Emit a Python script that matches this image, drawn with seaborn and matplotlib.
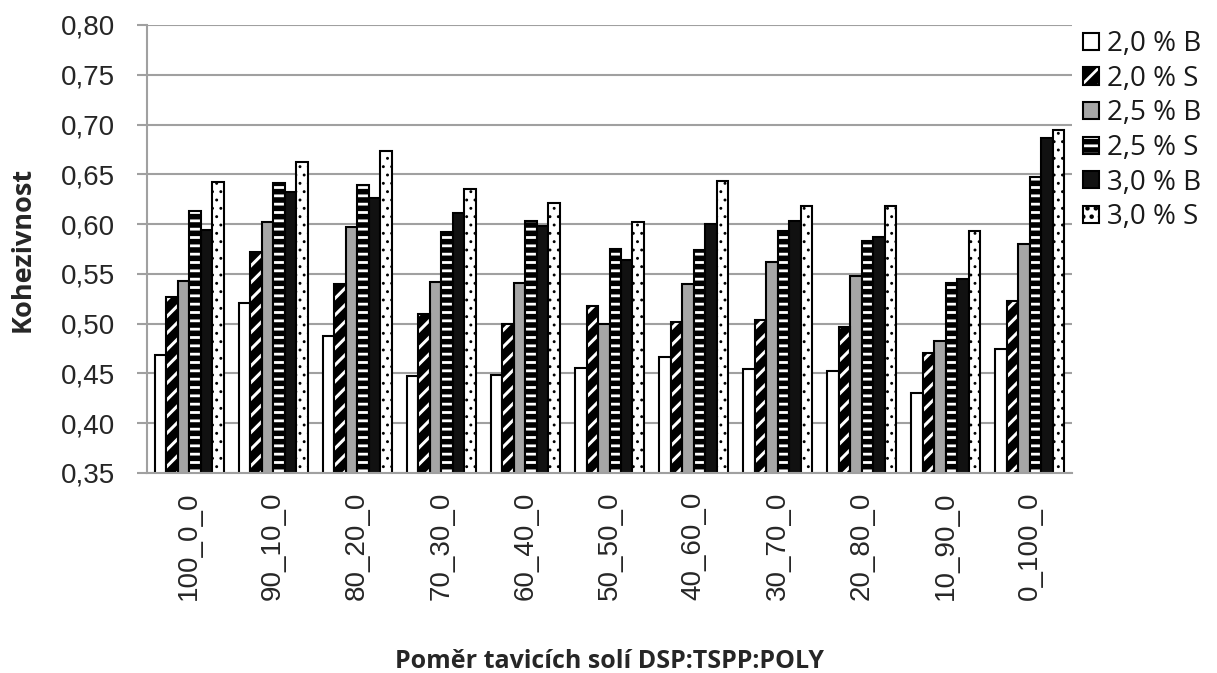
import matplotlib
matplotlib.use("Agg")
import matplotlib.pyplot as plt
from matplotlib.patches import Patch
import seaborn as sns
import pandas as pd

categories = ["100_0_0", "90_10_0", "80_20_0", "70_30_0", "60_40_0", "50_50_0",
              "40_60_0", "30_70_0", "20_80_0", "10_90_0", "0_100_0"]
series = ["2,0 % B", "2,0 % S", "2,5 % B", "2,5 % S", "3,0 % B", "3,0 % S"]
v_20B = [0.469, 0.521, 0.488, 0.447, 0.448, 0.455, 0.467, 0.454, 0.452, 0.430, 0.475]
v_20S = [0.527, 0.572, 0.540, 0.510, 0.500, 0.518, 0.502, 0.504, 0.497, 0.471, 0.523]
v_25B = [0.543, 0.602, 0.597, 0.542, 0.541, 0.500, 0.540, 0.562, 0.548, 0.483, 0.580]
v_25S = [0.613, 0.641, 0.639, 0.592, 0.603, 0.575, 0.574, 0.593, 0.583, 0.541, 0.647]
v_30B = [0.594, 0.632, 0.626, 0.611, 0.598, 0.564, 0.600, 0.603, 0.587, 0.545, 0.686]
v_30S = [0.642, 0.662, 0.673, 0.635, 0.621, 0.602, 0.643, 0.618, 0.618, 0.593, 0.695]
values = [v_20B, v_20S, v_25B, v_25S, v_30B, v_30S]

rows = []
for s, vals in zip(series, values):
    for c, v in zip(categories, vals):
        rows.append({"cat": c, "series": s, "value": v})
df = pd.DataFrame(rows)

sns.set_style("white")
plt.rcParams["hatch.linewidth"] = 2.0
plt.rcParams["font.family"] = ["Liberation Sans", "DejaVu Sans"]

# style per series: face, hatch, hatch colour, hatch linewidth
styles = [
    ("white", None, "black", None),
    ("black", "//", "white", 2.2),
    ("#a6a6a6", None, "black", None),
    ("black", "--", "white", 2.0),
    ("#111111", None, "black", None),
    ("white", "..", "black", 0.9),
]

fig = plt.figure(figsize=(12.17, 6.73), dpi=100)
ax = fig.add_axes([147 / 1217, 1 - 473 / 673, (1072 - 147) / 1217, (473 - 25) / 673])

sns.barplot(data=df, x="cat", y="value", hue="series", order=categories,
            hue_order=series, palette=[s[0] for s in styles], width=0.82,
            edgecolor="black", linewidth=1.5, ax=ax, legend=False, saturation=1)


def style_hatch(p, hatch, hc, hlw):
    p.set_hatch(hatch)
    p.set_edgecolor(hc)
    p.set_linewidth(0)
    if hasattr(p, "set_hatch_linewidth"):
        p.set_hatch_linewidth(hlw)


for cont, (face, hatch, hc, hlw) in zip(ax.containers, styles):
    for bar in cont:
        bar.set_facecolor(face)
        if hatch:
            style_hatch(bar, hatch, hc, hlw)
            x, y = bar.get_xy()
            outline = plt.Rectangle((x, y), bar.get_width(), bar.get_height(),
                                    fill=False, edgecolor="black", linewidth=1.5,
                                    zorder=bar.get_zorder() + 0.1)
            ax.add_patch(outline)

ax.set_ylim(0.35, 0.80)
ax.set_xlim(-0.5, len(categories) - 0.5)
yt = [0.35 + 0.05 * i for i in range(10)]
ax.set_yticks(yt)
ax.set_yticklabels([f"{t:.2f}".replace(".", ",") for t in yt], fontsize=20)
ax.set_xticks(range(len(categories)))
ax.set_xticklabels(categories, rotation=90, fontsize=20)
ax.yaxis.grid(True, color="#a0a0a0", linewidth=1.5)
ax.set_axisbelow(True)
for sp in ["top", "right"]:
    ax.spines[sp].set_visible(False)
for sp in ["left", "bottom"]:
    ax.spines[sp].set_color("#a0a0a0")
    ax.spines[sp].set_linewidth(1.5)
ax.tick_params(axis="y", which="both", left=True, length=7.2, color="#a0a0a0",
               width=1.5, pad=16)
ax.tick_params(axis="x", bottom=False, pad=10)

ax.set_xlabel("Poměr tavicích solí DSP:TSPP:POLY", fontsize=18, fontweight="bold",
              family=["Open Sans", "DejaVu Sans"])
ax.set_ylabel("Kohezivnost", fontsize=19.5, fontweight="bold",
              family=["Open Sans", "DejaVu Sans"])
ax.xaxis.label.set_va("center")
ax.yaxis.label.set_va("center")
ax.xaxis.set_label_coords(0.5, -(662 - 473) / 448)
ax.yaxis.set_label_coords((23 - 147) / 925, 0.5)

handles = []
for s, (face, hatch, hc, hlw) in zip(series, styles):
    if hatch:
        h1 = Patch(facecolor=face, label=s)
        style_hatch(h1, hatch, hc, hlw)
        h2 = Patch(facecolor="none", edgecolor="black", linewidth=1.5)
        handles.append((h1, h2))
    else:
        handles.append(Patch(facecolor=face, edgecolor="black", linewidth=1.5, label=s))
leg = fig.legend(handles=handles, labels=series, loc="upper left",
                 bbox_to_anchor=(1083 / 1217, 1 - 30 / 673), bbox_transform=fig.transFigure,
                 frameon=False, prop={"family": ["Open Sans", "DejaVu Sans"], "size": 20},
                 handlelength=0.58, handleheight=0.58, handletextpad=0.3, labelspacing=0.24,
                 borderaxespad=0, borderpad=0)
for t in leg.get_texts():
    t.set_color("#1a1a1a")

fig.savefig("out.png", dpi=100)
